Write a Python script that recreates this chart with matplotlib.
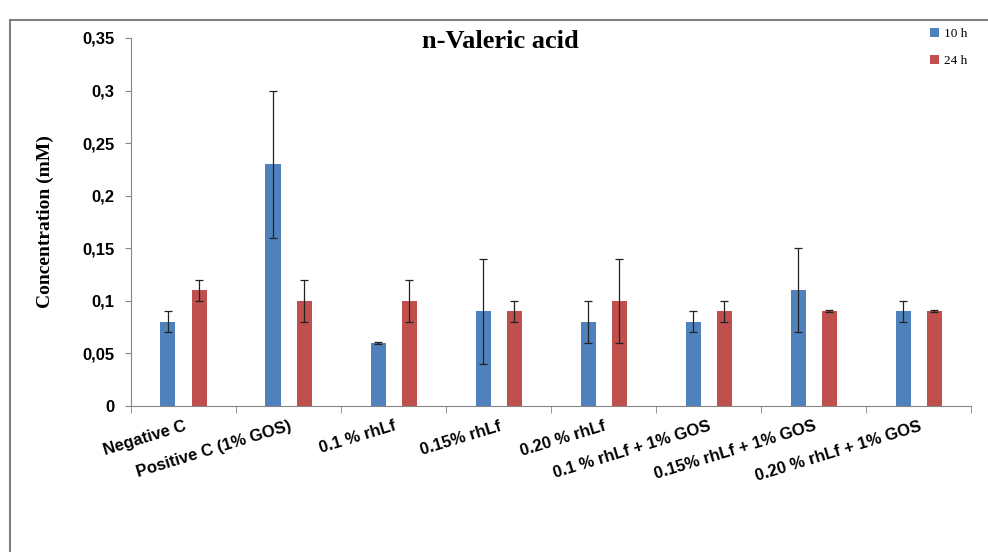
import matplotlib.pyplot as plt
import numpy as np
from matplotlib.patches import Rectangle

# data
groups = ['Negative C', 'Positive C (1% GOS)', '0.1 % rhLf', '0.15% rhLf',
          '0.20 % rhLf', '0.1 % rhLf + 1% GOS', '0.15% rhLf + 1% GOS',
          '0.20 % rhLf + 1% GOS']
h10 = [0.08, 0.23, 0.06, 0.09, 0.08, 0.08, 0.11, 0.09]
h10_err = [0.01, 0.07, 0.001, 0.05, 0.02, 0.01, 0.04, 0.01]
h24 = [0.11, 0.10, 0.10, 0.09, 0.10, 0.09, 0.09, 0.09]
h24_err = [0.01, 0.02, 0.02, 0.01, 0.04, 0.01, 0.001, 0.001]
yticks = [0, 0.05, 0.1, 0.15, 0.2, 0.25, 0.3, 0.35]
ytick_labels = ['0', '0,05', '0,1', '0,15', '0,2', '0,25', '0,3', '0,35']

fig = plt.figure(figsize=(9.88, 5.52), dpi=100)
ax = fig.add_axes([0.1326, 0.2645, 0.8504, 0.6667])

# outer frame
fig.patches.append(Rectangle((10 / 988, -0.1), 1.2, 1 - 20 / 552 + 0.1,
                             transform=fig.transFigure, fill=False,
                             edgecolor='#808080', linewidth=1.5))

x = np.arange(len(groups))
w = 0.143
off = 0.148
ekw = dict(ecolor='#222222', elinewidth=0.9, capsize=3, capthick=0.9)
ax.bar(x - off, h10, w, yerr=h10_err, color='#4F81BD', label='10 h',
       error_kw=ekw, edgecolor='none')
ax.bar(x + off, h24, w, yerr=h24_err, color='#C0504D', label='24 h',
       error_kw=ekw, edgecolor='none')

ax.set_xlim(-0.5, len(groups) - 0.5)
ax.set_ylim(0, 0.35)
ax.set_yticks(yticks)
ax.set_yticklabels(ytick_labels, fontfamily='Liberation Sans',
                   fontweight='bold', fontsize=12)
ax.set_xticks(x)
ax.set_xticklabels(groups, rotation=17, ha='right', rotation_mode='anchor',
                   fontfamily='Liberation Sans', fontweight='bold', fontsize=12)
ax.tick_params(axis='x', length=0, pad=9)
ax.set_xticks(np.arange(len(groups) + 1) - 0.5, minor=True)
ax.tick_params(axis='x', which='minor', length=5, color='#868686')
ax.tick_params(axis='y', length=4, color='#868686', pad=8)

for s in ['top', 'right']:
    ax.spines[s].set_visible(False)
for s in ['left', 'bottom']:
    ax.spines[s].set_color('#868686')

ax.set_ylabel('Concentration (mM)', fontfamily='Liberation Serif',
              fontweight='bold', fontsize=14, labelpad=20)
ax.set_title('n-Valeric acid', fontfamily='Liberation Serif',
             fontweight='bold', fontsize=19, x=0.44, y=0.95)

leg = ax.legend(loc='upper right', bbox_to_anchor=(1.01, 1.06), frameon=False,
                prop={'family': 'Liberation Serif', 'size': 9.5},
                handlelength=0.7, handleheight=0.7, handletextpad=0.4,
                labelspacing=1.1)

fig.savefig('out.png', dpi=100)
